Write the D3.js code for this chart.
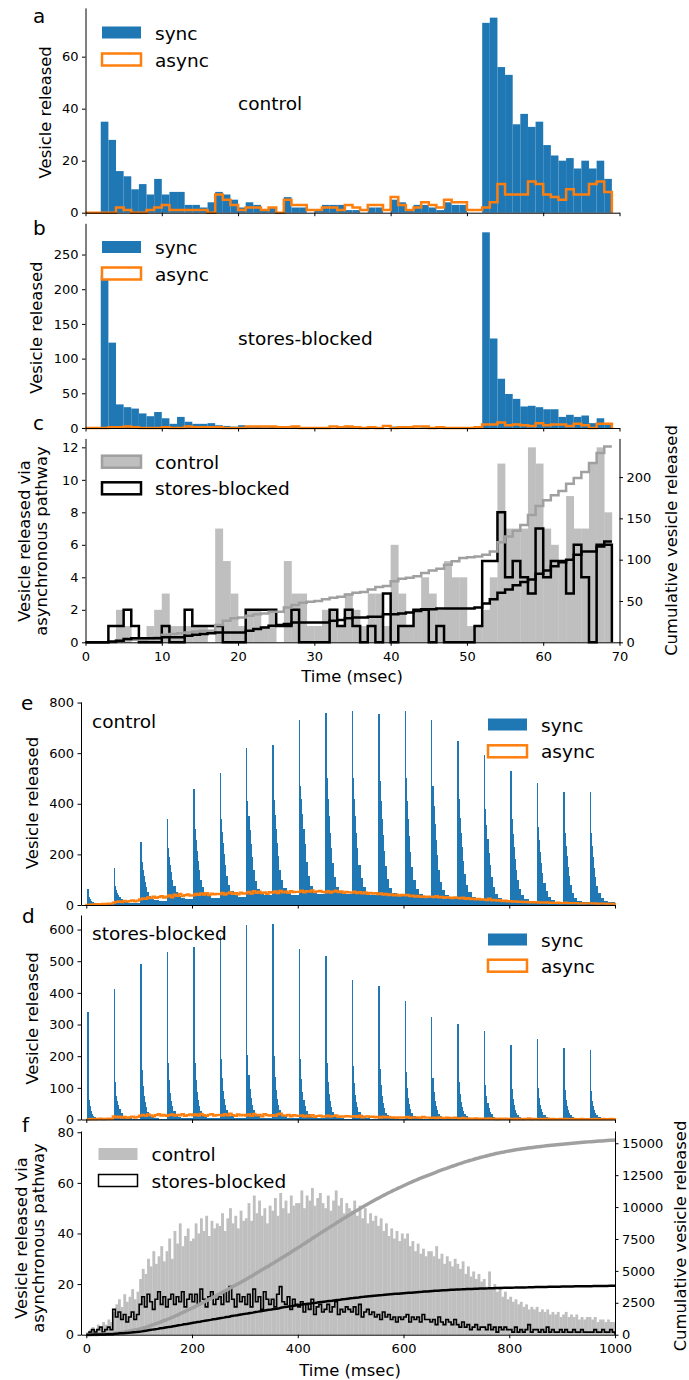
<!DOCTYPE html>
<html><head><meta charset="utf-8">
<script src="https://cdn.jsdelivr.net/npm/d3@7"></script>
<style>
body{margin:0;background:#fff}
svg{display:block}
text{font-family:"DejaVu Sans",sans-serif;fill:#000}
</style>
</head><body>
<svg id="chart" width="689" height="1380"></svg>
<script>
// ---------------- DATA ----------------
// Panels a-c: 1-ms bins, bin i covers [i, i+1] msec, i = 0..68
const syncControl = [0,0,35,28,16,14,9,11,7,13,7,8,8,3,3,2,4,8,7,5,2,4,3,1,2,0,6,2,2,0,1,3,3,3,1,1,0,2,2,0,5,4,1,3,3,2,1,4,3,3,0,0,73,75,56,53,34,38,33,35,26,22,20,21,17,20,17,20,13];
const asyncControl = [0,0,0,0,2,1,0,0,1,2,3,1,1,1,1,1,0,7,5,3,1,2,2,1,2,0,5,3,3,1,1,2,2,1,3,2,1,3,3,1,6,3,1,2,4,3,2,5,4,4,1,1,2,4,11,7,7,7,12,11,7,6,5,9,7,7,11,12,8];
const syncBlocked = [0,0,220,123,34,30,28,21,17,23,14,6,16,9,6,6,7,4,3,2,4,2,3,1,2,1,1,2,1,0,1,1,0,1,2,1,0,1,1,0,2,1,1,0,1,1,0,1,0,1,0,0,282,129,71,49,42,31,32,30,27,27,16,19,16,18,7,14,7];
const asyncBlocked = [0,0,0,1,1,2,1,0,0,0,1,0,0,2,1,1,1,1,0,0,0,2,2,2,2,1,1,2,0,0,0,0,2,1,2,1,0,1,0,3,0,1,1,2,2,0,1,0,0,0,0,1,5,5,8,4,5,4,3,7,4,5,5,3,6,4,0,6,6];

// Panels e,d: stimulus pulses every 50 ms; bin edges (ms after pulse onset) and per-pulse counts
const pulseTimes = [0,50,100,150,200,250,300,350,400,450,500,550,600,650,700,750,800,850,900,950];
const pulseEdges = [2,4,6,8,10,12,14,18,22,28,36,52];
const syncControlTrain = [
[62,30,22,17,13,10,7,5,4,3,3],
[147,75,60,48,38,30,22,15,11,9,8],
[250,170,140,115,92,72,52,36,25,18,15],
[338,225,190,160,130,100,75,52,36,26,22],
[458,300,255,215,175,138,100,70,48,35,28],
[522,340,290,245,200,158,115,80,56,40,33],
[621,410,350,295,240,190,138,95,65,46,38],
[632,415,355,300,245,195,140,98,66,48,40],
[730,470,420,360,300,240,170,115,75,52,42],
[759,500,420,350,285,225,165,110,72,52,42],
[767,500,420,350,285,225,160,108,70,50,40],
[754,490,410,340,275,215,155,102,66,46,36],
[767,500,410,340,272,210,150,98,62,42,33],
[730,470,390,320,255,196,140,92,58,38,30],
[647,420,345,285,228,175,124,80,50,32,25],
[591,380,315,260,207,158,112,72,44,28,20],
[529,340,280,230,182,140,98,62,38,24,16],
[484,310,255,210,165,125,88,55,33,20,13],
[446,285,235,192,150,113,78,48,28,17,11],
[446,285,232,188,146,110,75,46,27,16,10]];
const syncBlockedTrain = [
[340,63,42,28,18,12,8,5,3,2,1],
[413,120,75,60,45,32,20,12,7,4,3],
[492,155,105,75,55,38,24,14,8,5,3],
[528,180,125,85,60,42,27,16,9,6,4],
[545,180,125,88,62,44,28,17,10,6,4],
[579,190,130,90,64,45,29,18,10,6,4],
[614,205,140,95,67,47,30,18,10,6,4],
[618,200,135,92,65,45,29,17,10,6,4],
[540,190,128,88,62,43,27,16,9,6,4],
[518,180,120,82,58,40,25,15,9,5,3],
[440,170,115,78,55,38,24,14,8,5,3],
[423,160,108,74,52,36,22,13,8,5,3],
[374,150,100,68,48,33,20,12,7,4,3],
[324,130,88,60,42,29,18,11,6,4,2],
[302,120,82,56,39,27,17,10,6,4,2],
[279,110,75,52,36,25,16,9,5,3,2],
[236,95,65,45,31,22,14,8,5,3,2],
[254,100,68,47,33,23,14,8,5,3,2],
[227,92,62,43,30,21,13,8,4,3,2],
[221,90,60,42,29,20,13,7,4,3,2]];

// Asynchronous release over the 1000-ms train: mean count per 2-ms bin within each 5-ms window
const trainWindow = 5;
const asyncControlTrain = [
1,2,3,2,4,3,5,4,6,5, 9,12,14,11,16,13,15,18,14,17,
22,26,24,30,27,33,28,31,35,29, 33,38,30,41,36,44,35,39,42,37,
38,44,40,46,41,47,39,45,42,44, 43,48,41,46,50,44,47,42,49,45,
46,52,45,55,48,53,47,50,44,51, 49,54,47,56,50,53,48,55,51,52,
52,57,50,55,53,58,51,54,56,52, 50,55,49,53,57,51,54,48,52,50,
49,53,47,51,46,50,44,48,45,47, 43,46,41,44,39,42,38,41,37,40,
38,40,35,37,33,36,32,34,31,33, 33,31,35,30,32,28,31,29,27,30,
28,26,29,24,27,23,25,22,24,21, 22,19,25,18,20,17,19,15,17,14,
15,13,14,12,13,11,12,10,11,10, 11,9,10,9,10,8,9,8,9,7,
8,9,7,8,7,8,6,7,6,7, 7,6,7,5,6,6,5,6,5,5];
const asyncBlockedTrain = [
0,1,2,1,2,3,1,2,3,2, 10,7,9,6,8,5,7,9,6,8,
12,15,11,16,13,10,14,17,12,15, 11,14,16,12,15,13,17,11,14,16,
13,16,12,18,14,11,15,17,12,14, 15,12,17,13,19,14,11,16,13,15,
12,16,11,18,13,15,10,17,14,12, 14,11,16,19,13,12,15,10,14,12,
11,13,9,12,10,14,8,11,12,9, 10,12,9,11,13,8,10,9,11,10,
9,11,8,12,7,9,10,8,9,7, 8,6,9,7,8,6,7,5,7,6,
7,8,5,7,6,7,5,8,6,6, 5,6,4,7,5,4,6,5,4,6,
4,3,5,3,4,2,3,4,2,3, 3,2,4,2,3,1,3,2,3,2,
2,1,3,1,2,1,2,4,1,2, 2,1,2,1,3,1,2,1,1,2,
1,2,1,1,2,1,1,2,1,1, 1,1,2,1,1,2,1,1,2,1];

// Tick values
const ticksShortX = [0,10,20,30,40,50,60,70];
const ticksLongX = [0,200,400,600,800,1000];
const ticksA = [0,20,40,60];
const ticksB = [0,50,100,150,200,250];
const ticksC = [0,2,4,6,8,10,12];
const ticksCR = [0,50,100,150,200];
const ticksE = [0,200,400,600,800];
const ticksD = [0,100,200,300,400,500,600];
const ticksF = [0,20,40,60,80];
const ticksFR = [0,2500,5000,7500,10000,12500,15000];

// ---------------- STYLE ----------------
const BLUE = "#1f77b4", ORANGE = "#ff7f0e", GRAY = "#bfbfbf", GRAYLINE = "#a0a0a0";
const TICKFS = 13, LABFS = 16.4, LEGFS = 18.5, LETFS = 20;

const svg = d3.select("#chart");
const xShort = d3.scaleLinear().domain([0,70]).range([85.5,619.5]);
const xLong = d3.scaleLinear().domain([-10,1000]).range([81,615]);

function styleAxis(g){
  g.selectAll(".domain").attr("stroke","#000").attr("stroke-width",1);
  g.selectAll(".tick line").attr("stroke","#000").attr("stroke-width",1);
  g.selectAll(".tick text").attr("font-size",TICKFS).attr("font-family","DejaVu Sans").attr("fill","#000");
}
function bottomAxis(x, y0, ticks, labels){
  const g = svg.append("g").attr("transform",`translate(0,${y0})`)
    .call(d3.axisBottom(x).tickValues(ticks).tickSize(3.5).tickSizeOuter(0).tickPadding(6)
      .tickFormat(labels ? d3.format("d") : () => ""));
  styleAxis(g);
}
function leftAxis(y, x0, ticks){
  const g = svg.append("g").attr("transform",`translate(${x0},0)`)
    .call(d3.axisLeft(y).tickValues(ticks).tickSize(3.5).tickSizeOuter(0).tickPadding(3.5).tickFormat(d3.format("d")));
  styleAxis(g);
}
function rightAxis(y, x0, ticks){
  const g = svg.append("g").attr("transform",`translate(${x0},0)`)
    .call(d3.axisRight(y).tickValues(ticks).tickSize(3.5).tickSizeOuter(0).tickPadding(3.5).tickFormat(d3.format("d")));
  styleAxis(g);
}
function vlabel(lines, x0, cy, fs){
  lines.forEach((t,i)=>{
    svg.append("text").attr("transform",`translate(${x0[i]},${cy}) rotate(-90)`)
      .attr("text-anchor","middle").attr("font-size",fs).text(t);
  });
}
function txt(t, x, y, fs, anchor){
  svg.append("text").attr("x",x).attr("y",y).attr("font-size",fs).attr("text-anchor",anchor||"start").text(t);
}
function stepPts(vals, edges){ // edges length vals.length+1
  const p = [[edges[0],0]];
  vals.forEach((v,i)=>{ p.push([edges[i],v]); p.push([edges[i+1],v]); });
  p.push([edges[edges.length-1],0]);
  return p;
}
function legendRow(x, cy, kind, label){
  const r = svg.append("rect").attr("x",x).attr("y",cy-6).attr("width",39).attr("height",12);
  if(kind==="blue") r.attr("fill",BLUE);
  else if(kind==="orange") r.attr("fill","#fff").attr("stroke",ORANGE).attr("stroke-width",2.5);
  else if(kind==="grayC") r.attr("fill",GRAY).attr("stroke",GRAYLINE).attr("stroke-width",2.5);
  else if(kind==="blackC") r.attr("fill","#fff").attr("stroke","#000").attr("stroke-width",2.5);
  else if(kind==="grayF") r.attr("fill",GRAY);
  else if(kind==="blackF") r.attr("fill","#fff").attr("stroke","#000").attr("stroke-width",1.5);
  txt(label, x+53, cy+7, LEGFS);
}

const shortEdges = d3.range(0, syncControl.length+1);

// ---------------- PANELS a, b ----------------
function shortPanel(syncV, asyncV, y, ticks, cond, legY, condY, labelX){
  const g = svg.append("g");
  g.selectAll("rect").data(syncV).join("rect")
    .attr("x",(d,i)=>xShort(i)).attr("width",(d,i)=>xShort(i+1)-xShort(i))
    .attr("y",d=>y(d)).attr("height",d=>y(0)-y(d)).attr("fill",BLUE);
  svg.append("path").datum(stepPts(asyncV, shortEdges))
    .attr("d", d3.line().x(d=>xShort(d[0])).y(d=>y(d[1])))
    .attr("fill","none").attr("stroke",ORANGE).attr("stroke-width",2.5).attr("stroke-linejoin","miter");
  bottomAxis(xShort, y(0), ticksShortX, false);
  leftAxis(y, xShort(0), ticks);
  vlabel(["Vesicle released"], [labelX], (y.range()[0]+y.range()[1])/2 + 2, LABFS);
  legendRow(102, legY[0], "blue", "sync");
  legendRow(102, legY[1], "orange", "async");
  txt(cond, 238, condY, LEGFS);
}
const yA = d3.scaleLinear().domain([0,78.75]).range([212.7,7.9]);
shortPanel(syncControl, asyncControl, yA, ticksA, "control", [32.5,59.5], 110, 51);
txt("a", 33, 23, LETFS);
const yB = d3.scaleLinear().domain([0,295]).range([428,223.3]);
shortPanel(syncBlocked, asyncBlocked, yB, ticksB, "stores-blocked", [247,273.5], 345, 42);
txt("b", 33, 235, LETFS);

// ---------------- PANEL c ----------------
const yC = d3.scaleLinear().domain([0,12.55]).range([642.3,438.4]);
const yCR = d3.scaleLinear().domain([0,246.8]).range([642.3,438.4]);
svg.append("g").selectAll("rect").data(asyncControl).join("rect")
  .attr("x",(d,i)=>xShort(i)).attr("width",(d,i)=>xShort(i+1)-xShort(i)+0.3)
  .attr("y",d=>yC(d)).attr("height",d=>yC(0)-yC(d)).attr("fill",GRAY);
svg.append("path").datum(stepPts(asyncBlocked, shortEdges))
  .attr("d", d3.line().x(d=>xShort(d[0])).y(d=>yC(d[1])))
  .attr("fill","none").attr("stroke","#000").attr("stroke-width",2.5);
function cumStep(vals){
  const c = d3.cumsum(vals); const p=[[0,0]];
  c.forEach((v,i)=>{ p.push([i,v]); p.push([i+1,v]); });
  return p;
}
svg.append("path").datum(cumStep(asyncControl))
  .attr("d", d3.line().x(d=>xShort(d[0])).y(d=>yCR(d[1])))
  .attr("fill","none").attr("stroke",GRAYLINE).attr("stroke-width",2.5);
svg.append("path").datum(cumStep(asyncBlocked))
  .attr("d", d3.line().x(d=>xShort(d[0])).y(d=>yCR(d[1])))
  .attr("fill","none").attr("stroke","#000").attr("stroke-width",2.5);
bottomAxis(xShort, yC(0), ticksShortX, true);
leftAxis(yC, xShort(0), ticksC);
rightAxis(yCR, xShort(70), ticksCR);
vlabel(["Vesicle released via","asynchronous pathway"], [30,47], 541, LABFS);
vlabel(["Cumulative vesicle released"], [677], 540.5, LABFS);
txt("Time (msec)", 352, 682, LABFS, "middle");
legendRow(102, 461.7, "grayC", "control");
legendRow(102, 488.3, "blackC", "stores-blocked");
txt("c", 33, 430, LETFS);

// ---------------- PANELS e, d ----------------
function trainBars(train){
  const out = [];
  train.forEach((vals, p)=>{
    vals.forEach((v,k)=>{
      const t0 = pulseTimes[p] + pulseEdges[k];
      const t1 = Math.min(1000, pulseTimes[p] + pulseEdges[k+1]);
      out.push({t0, t1, v});
    });
  });
  return out;
}
const winEdges = d3.range(0, asyncControlTrain.length+1).map(i=>i*trainWindow);
function longPanel(train, asyncV, y, ticks, cond, condY, legY, labelCy){
  svg.append("g").attr("shape-rendering","crispEdges").selectAll("rect").data(trainBars(train)).join("rect")
    .attr("x",d=>xLong(d.t0)).attr("width",d=>Math.max(1, xLong(d.t1)-xLong(d.t0)+0.4))
    .attr("y",d=>y(d.v)).attr("height",d=>y(0)-y(d.v)).attr("fill",BLUE);
  svg.append("path").datum(stepPts(asyncV, winEdges))
    .attr("d", d3.line().x(d=>xLong(d[0])).y(d=>y(d[1])))
    .attr("fill","none").attr("stroke",ORANGE).attr("stroke-width",2.2);
  bottomAxis(xLong, y(0), ticksLongX, false);
  leftAxis(y, 81, ticks);
  vlabel(["Vesicle released"], [38], labelCy, LABFS);
  legendRow(488, legY[0], "blue", "sync");
  legendRow(488, legY[1], "orange", "async");
  txt(cond, 92, condY, LEGFS);
}
const yE = d3.scaleLinear().domain([0,803]).range([905,701.8]);
longPanel(syncControlTrain, asyncControlTrain, yE, ticksE, "control", 728, [724.5,751.3], 803);
txt("e", 21, 710, LETFS);
const yD = d3.scaleLinear().domain([0,646]).range([1119.5,915]);
longPanel(syncBlockedTrain, asyncBlockedTrain, yD, ticksD, "stores-blocked", 940, [939.5,965.7], 1018.5);
txt("d", 22, 923, LETFS);

// ---------------- PANEL f ----------------
const yF = d3.scaleLinear().domain([0,80.5]).range([1334.7,1131]);
const yFR = d3.scaleLinear().domain([0,15960]).range([1334.7,1131]);
svg.append("g").selectAll("rect").data(asyncControlTrain).join("rect")
  .attr("x",(d,i)=>xLong(i*trainWindow)).attr("width",(d,i)=>xLong((i+1)*trainWindow)-xLong(i*trainWindow)+0.2)
  .attr("y",d=>yF(d)).attr("height",d=>yF(0)-yF(d)).attr("fill",GRAY);
svg.append("path").datum(stepPts(asyncBlockedTrain, winEdges))
  .attr("d", d3.line().x(d=>xLong(d[0])).y(d=>yF(d[1])))
  .attr("fill","none").attr("stroke","#000").attr("stroke-width",1.6);
function cumLine(vals){ // counts per 2-ms bin -> per window total = v * window/2
  const c = d3.cumsum(vals.map(v=>v*trainWindow/2));
  return [[0,0]].concat(Array.from(c,(v,i)=>[(i+1)*trainWindow, v]));
}
svg.append("path").datum(cumLine(asyncControlTrain))
  .attr("d", d3.line().x(d=>xLong(d[0])).y(d=>yFR(d[1])))
  .attr("fill","none").attr("stroke",GRAYLINE).attr("stroke-width",3.5);
svg.append("path").datum(cumLine(asyncBlockedTrain))
  .attr("d", d3.line().x(d=>xLong(d[0])).y(d=>yFR(d[1])))
  .attr("fill","none").attr("stroke","#000").attr("stroke-width",2.5);
bottomAxis(xLong, yF(0), ticksLongX, true);
leftAxis(yF, 81, ticksF);
rightAxis(yFR, 615, ticksFR);
vlabel(["Vesicle released via","asynchronous pathway"], [27,44], 1238, LABFS);
vlabel(["Cumulative vesicle released"], [686], 1236, LABFS);
txt("Time (msec)", 350, 1376, LABFS, "middle");
legendRow(98.5, 1154, "grayF", "control");
legendRow(98.5, 1180.5, "blackF", "stores-blocked");
txt("f", 22, 1132, LETFS);
</script>
</body></html>
